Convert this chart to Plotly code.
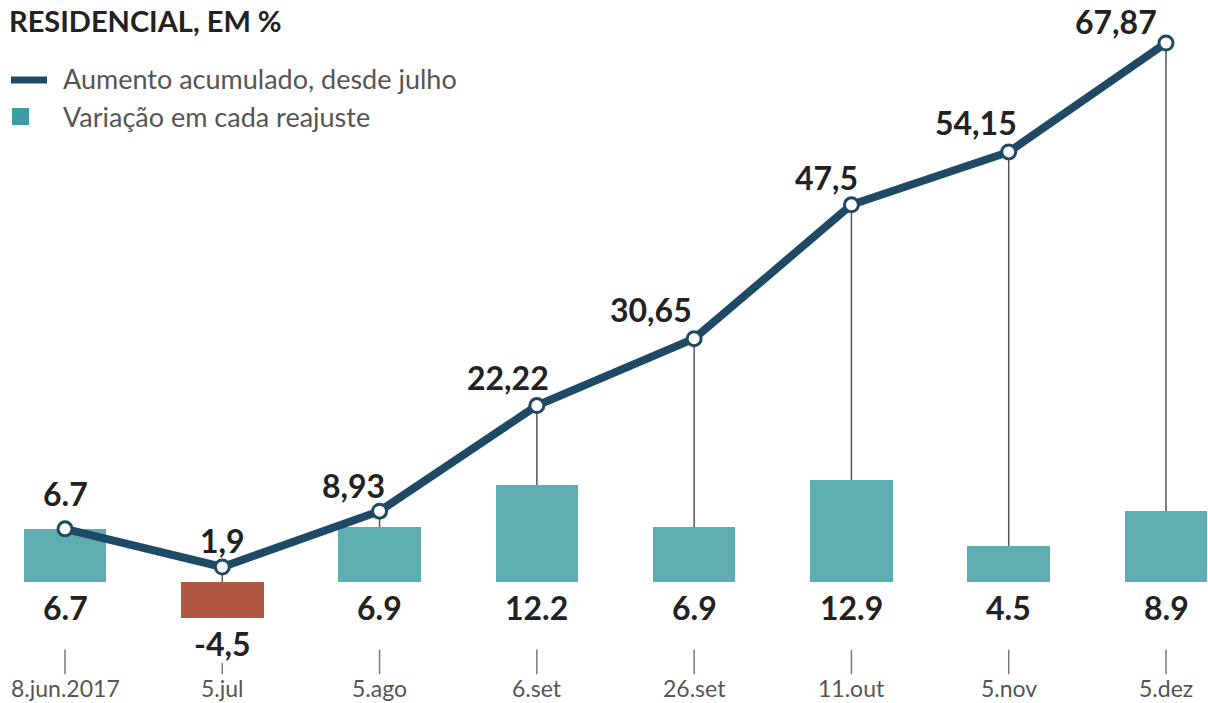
import plotly.graph_objects as go

categories = ["8.jun.2017", "5.jul", "5.ago", "6.set", "26.set", "11.out", "5.nov", "5.dez"]
acumulado = [6.7, 1.9, 8.93, 22.22, 30.65, 47.5, 54.15, 67.87]
acumulado_labels = ["6.7", "1,9", "8,93", "22,22", "30,65", "47,5", "54,15", "67,87"]
variacao = [6.7, -4.5, 6.9, 12.2, 6.9, 12.9, 4.5, 8.9]
variacao_labels = ["6.7", "-4,5", "6.9", "12.2", "6.9", "12.9", "4.5", "8.9"]

# styling
W, H = 1208, 703
LINE_C = "#1f4a66"
BAR_C = "#5eadb0"
NEG_C = "#b25641"
TXT = "#222222"
GRAY = "#555555"
FONT = "Lato"
label_xshift = [0, 0, -26, -29, -43, -25, -33, -50]
label_yshift = [35, 27, 26, 28, 29, 27, 29, 22]

x = list(range(len(categories)))
fig = go.Figure()

# vertical connectors from cumulative points to baseline
for i, v in zip(x, acumulado):
    fig.add_shape(type="line", x0=i, x1=i, y0=0, y1=v, xref="x", yref="y",
                  line=dict(color=GRAY, width=1.5), layer="below")

fig.add_trace(go.Bar(
    x=x, y=variacao, width=0.525,
    marker=dict(color=[BAR_C if v >= 0 else NEG_C for v in variacao], line=dict(width=0)),
    hoverinfo="skip", showlegend=False,
))
fig.add_trace(go.Scatter(
    x=x, y=acumulado, mode="lines+markers",
    line=dict(color=LINE_C, width=8),
    marker=dict(size=14, color="white", line=dict(color=LINE_C, width=3)),
    hoverinfo="skip", showlegend=False,
))

ann = []
for i, (v, t) in enumerate(zip(acumulado, acumulado_labels)):
    ann.append(dict(x=i, y=v, xref="x", yref="y", text=t, showarrow=False,
                    xshift=label_xshift[i], yshift=label_yshift[i], yanchor="middle",
                    font=dict(family=FONT, size=32, color=TXT, weight="bold")))
for i, (v, t) in enumerate(zip(variacao, variacao_labels)):
    base = 0 if v >= 0 else v
    ann.append(dict(x=i, y=base, xref="x", yref="y", text=t, showarrow=False,
                    yanchor="top", yshift=-4,
                    font=dict(family=FONT, size=32, color=TXT, weight="bold")))
    # small tick line under label
    top = -8.5 if v >= 0 else -10.2
    fig.add_shape(type="line", x0=i, x1=i, y0=top, y1=-11.6, xref="x", yref="y",
                  line=dict(color="#777777", width=1.5))
    ann.append(dict(x=i, y=-13.3, xref="x", yref="y", text=categories[i], showarrow=False,
                    yanchor="middle", font=dict(family=FONT, size=23, color=GRAY)))

# title
ann.append(dict(x=7 / W, y=1 - 20 / H, xref="paper", yref="paper", xanchor="left", yanchor="middle",
                text="RESIDENCIAL, EM %", showarrow=False,
                font=dict(family=FONT, size=29, color=TXT, weight="bold")))
# legend
fig.add_shape(type="line", x0=11 / W, x1=47 / W, y0=1 - 80 / H, y1=1 - 80 / H, xref="paper", yref="paper",
              line=dict(color=LINE_C, width=7))
fig.add_shape(type="rect", x0=12 / W, x1=29 / W, y0=1 - 125 / H, y1=1 - 108 / H, xref="paper", yref="paper",
              line=dict(width=0), fillcolor="#3a9ea3")
ann.append(dict(x=61 / W, y=1 - 79 / H, xref="paper", yref="paper", xanchor="left", yanchor="middle",
                text="Aumento acumulado, desde julho", showarrow=False,
                font=dict(family=FONT, size=27, color=GRAY)))
ann.append(dict(x=61 / W, y=1 - 116 / H, xref="paper", yref="paper", xanchor="left", yanchor="middle",
                text="Variação em cada reajuste", showarrow=False,
                font=dict(family=FONT, size=27, color=GRAY)))

px_per_cat = (1166 - 65) / 7
x0 = -65 / px_per_cat
px_per_unit = (567 - 43) / (67.87 - 1.9)
zero_px = 567 + 1.9 * px_per_unit
y0 = -(H - zero_px) / px_per_unit

fig.update_layout(
    width=W, height=H, margin=dict(l=0, r=0, t=0, b=0),
    paper_bgcolor="white", plot_bgcolor="white",
    xaxis=dict(range=[x0, x0 + W / px_per_cat], visible=False, fixedrange=True),
    yaxis=dict(range=[y0, y0 + H / px_per_unit], visible=False, fixedrange=True),
    annotations=ann, showlegend=False, bargap=0,
)
fig.write_html("out.html", post_script="document.body.style.margin='0';document.body.style.overflow='hidden';",
               config={"displayModeBar": False})
